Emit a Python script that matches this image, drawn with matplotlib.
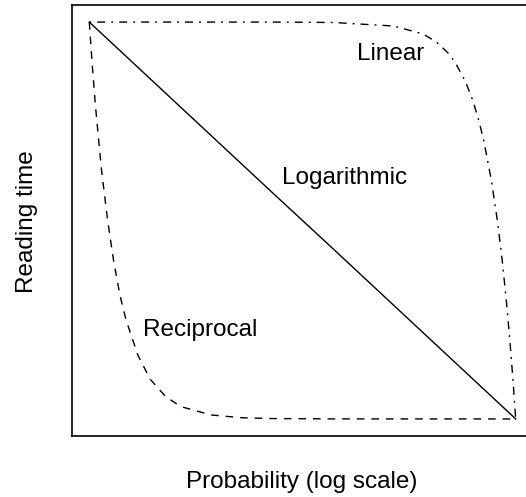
import matplotlib
matplotlib.use("Agg")
import matplotlib.pyplot as plt

plt.rcParams["font.family"] = ["Liberation Sans", "DejaVu Sans"]

# -------------------------
# Data (reading time scaled 0..1, probability on a log axis)
# -------------------------
recip_prob = [1e-7, 1.12e-7, 1.26e-7, 1.41e-7, 1.58e-7, 2e-7, 2.5e-7, 3.2e-7,
              4e-7, 6.3e-7, 1e-6, 1.8e-6, 3.2e-6, 1e-5, 3.2e-5, 1e-4, 1e-3,
              1e-2, 1.0]
recip_time = [1.0, 0.89, 0.79, 0.71, 0.63, 0.50, 0.40, 0.31,
              0.25, 0.16, 0.10, 0.056, 0.031, 0.01, 0.003, 0.001, 0.0001,
              0.0, 0.0]

log_prob = [1e-7, 1e-6, 1e-5, 1e-4, 1e-3, 1e-2, 1e-1, 1.0]
log_time = [1.0, 0.857, 0.714, 0.571, 0.429, 0.286, 0.143, 0.0]

lin_prob = [1e-7, 1e-4, 1e-3, 0.01, 0.03, 0.05, 0.08, 0.1, 0.15, 0.2,
            0.25, 0.3, 0.4, 0.5, 0.6, 0.7, 0.8, 0.9, 1.0]
lin_time = [1.0, 1.0, 0.999, 0.99, 0.97, 0.95, 0.92, 0.90, 0.85, 0.80,
            0.75, 0.70, 0.60, 0.50, 0.40, 0.30, 0.20, 0.10, 0.0]

labels = ["Linear", "Logarithmic", "Reciprocal"]
label_prob = [8.9e-3, 1.55e-3, 6.6e-6]
label_time = [0.905, 0.592, 0.21]

# -------------------------
# Plot
# -------------------------
fig = plt.figure(figsize=(5.26, 4.97), dpi=100)
ax = fig.add_axes([72 / 526, 61 / 497, 461 / 526, 431 / 497])

ax.plot(lin_prob, lin_time, color="black", lw=1.0,
        linestyle=(0, (1.4, 4.3, 5.8, 4.3)))
ax.plot(log_prob, log_time, color="black", lw=1.0, linestyle="-")
ax.plot(recip_prob, recip_time, color="black", lw=1.0,
        linestyle=(0, (5.5, 5.0)))

ax.set_xscale("log")
ax.set_xlim(10 ** -7.284, 10 ** 0.284)
ax.set_ylim(-0.043, 1.043)

ax.set_xticks([])
ax.set_xticks([], minor=True)
ax.set_yticks([])
for s in ax.spines.values():
    s.set_linewidth(1.2)

for txt, px, py in zip(labels, label_prob, label_time):
    ax.text(px, py, txt, ha="center", va="baseline", fontsize=17.5)

fig.text(302 / 526, (497 - 488) / 497, "Probability (log scale)",
         ha="center", va="baseline", fontsize=17.5)
fig.text(33 / 526, 1 - 222 / 497, "Reading time", rotation=90,
         ha="center", va="baseline", rotation_mode="anchor", fontsize=17.5)

fig.savefig("out.png", dpi=100)
